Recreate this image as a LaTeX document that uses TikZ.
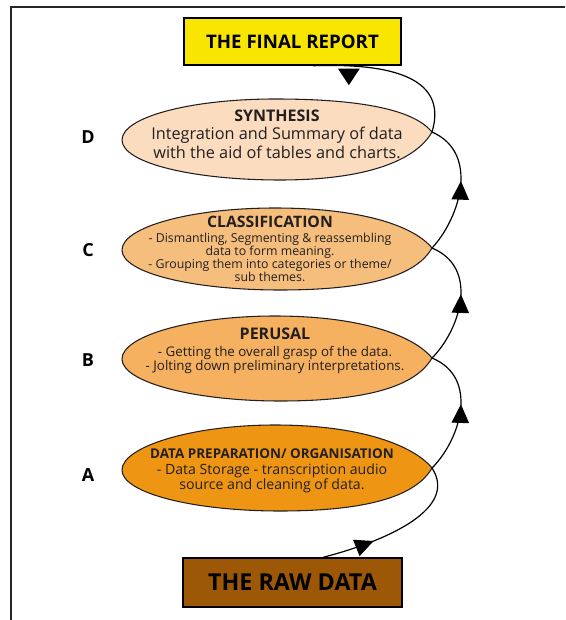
\documentclass[tikz,border=0pt]{standalone}
\usepackage{fontspec}
\setmainfont{Open Sans}
\usetikzlibrary{arrows.meta,decorations.markings}

\definecolor{inkdark}{RGB}{35,31,32}
\definecolor{reportyellow}{RGB}{248,230,0}
\definecolor{rawbrown}{RGB}{156,88,6}
\definecolor{synthfill}{RGB}{251,220,191}
\definecolor{classfill}{RGB}{246,190,124}
\definecolor{perusalfill}{RGB}{245,176,96}
\definecolor{prepfill}{RGB}{238,150,20}

% leaf-shaped stage outline: rounded on the left, pointed on the right
% #1 fill, #2 top y, #3 bottom y, #4 tip y, #5 y of the left end
\newcommand\drawleaf[5]{%
  \filldraw[leafline, fill=#1] (432,#4) .. controls (414,#4-22) and (362,#2) .. (275,#2)
    .. controls (191,#2) and (122,#5-23) .. (122,#5)
    .. controls (122,#5+23) and (193,#3) .. (280,#3)
    .. controls (368,#3) and (416,#4+28) .. (432,#4) -- cycle;
}

\tikzset{
  leafline/.style={draw=inkdark, line width=0.8pt},
  endbox/.style={draw=black, line width=1.1pt, inner sep=0pt, text=black,
    font=\bfseries},
  stagetext/.style={align=center, text=inkdark, inner sep=0pt},
  steplabel/.style={text=black, font=\bfseries\fontsize{13.5}{16}\selectfont},
  flow/.style={draw=black, line width=0.9pt},
  bigtip/.tip={Triangle[length=14pt,width=13pt]},
  midarrow/.style={postaction={decorate}, decoration={markings,
    mark=at position #1 with {\arrow{bigtip}}}},
  droparrow/.style={postaction={decorate}, decoration={markings,
    mark=at position #1 with {\pgftransformresetnontranslations
      \fill (-8.25pt,-2pt) -- (8.25pt,-2pt) -- (0pt,-14.5pt) -- cycle;}}}
}

\begin{document}
\begin{tikzpicture}[x=0.75pt, y=-0.75pt]
\useasboundingbox (0,0) rectangle (565,620);

% page frame
\draw[line width=1.5pt, black!85] (565,7) -- (11,7) -- (11,620);

% end boxes
\node[endbox, fill=reportyellow, minimum width=162.75pt, minimum height=35.25pt,
  font=\bfseries\fontsize{14}{16}\selectfont] (report) at (292.5,41.5) {THE FINAL REPORT};
\node[endbox, fill=rawbrown, minimum width=164.25pt, minimum height=36.75pt,
  font=\bfseries\fontsize{17.5}{20}\selectfont] (raw) at (292.5,582.5) {THE RAW DATA};

% stage outlines
\drawleaf{synthfill}{99}{180}{132}{140}
\drawleaf{classfill}{208}{290}{248}{250}
\drawleaf{perusalfill}{316}{401}{358}{359}
\drawleaf{prepfill}{425}{511}{468}{470}

\coordinate (tipD) at (432,132);
\coordinate (tipC) at (432,248);
\coordinate (tipB) at (432,358);
\coordinate (tipA) at (432,468);

% stage texts
\node[stagetext, font=\fontsize{12.2}{14}\selectfont] (synth) at (277,134)
  {{\bfseries\fontsize{12}{13}\selectfont SYNTHESIS}\\Integration and Summary of data\\with the aid of tables and charts.};
\node[stagetext, font=\fontsize{9.25}{9.8}\selectfont] (classif) at (270,249)
  {{\bfseries\fontsize{11.8}{12}\selectfont CLASSIFICATION}\\[1pt]
   - Dismantling, Segmenting \& reassembling\\data to form meaning.\\
   - Grouping them into categories or theme/\\sub themes.};
\node[stagetext, font=\fontsize{10}{10.6}\selectfont] (perusal) at (275,351)
  {{\bfseries\fontsize{12}{12}\selectfont PERUSAL}\\[2pt]
   - Getting the overall grasp of the data.\\- Jolting down preliminary interpretations.};
\node[stagetext, font=\fontsize{10.6}{11.5}\selectfont] (prep) at (272,471)
  {{\bfseries\fontsize{10.1}{11}\selectfont DATA PREPARATION/ ORGANISATION}\\
   - Data Storage - transcription audio\\source and cleaning of data.};

% stage letters
\node[steplabel] (labD) at (88,137) {D};
\node[steplabel] (labC) at (88,250) {C};
\node[steplabel] (labB) at (88,360) {B};
\node[steplabel] (labA) at (88,475) {A};

% spiral of connectors from the raw data up to the report
\draw[flow, midarrow=0.33] ([xshift=23pt]raw.north) .. controls (390,540) and (458,508) .. (tipA);
\draw[flow, midarrow=0.55] (tipA) .. controls (460,440) and (480,378) .. (tipB);
\draw[flow, midarrow=0.55] (tipB) .. controls (460,330) and (480,268) .. (tipC);
\draw[flow, midarrow=0.55] (tipC) .. controls (460,218) and (480,153) .. (tipD);
\draw[flow, droparrow=0.78] (tipD) .. controls (444,92) and (420,62) .. ([xshift=15.4pt]report.south);
\end{tikzpicture}
\end{document}
